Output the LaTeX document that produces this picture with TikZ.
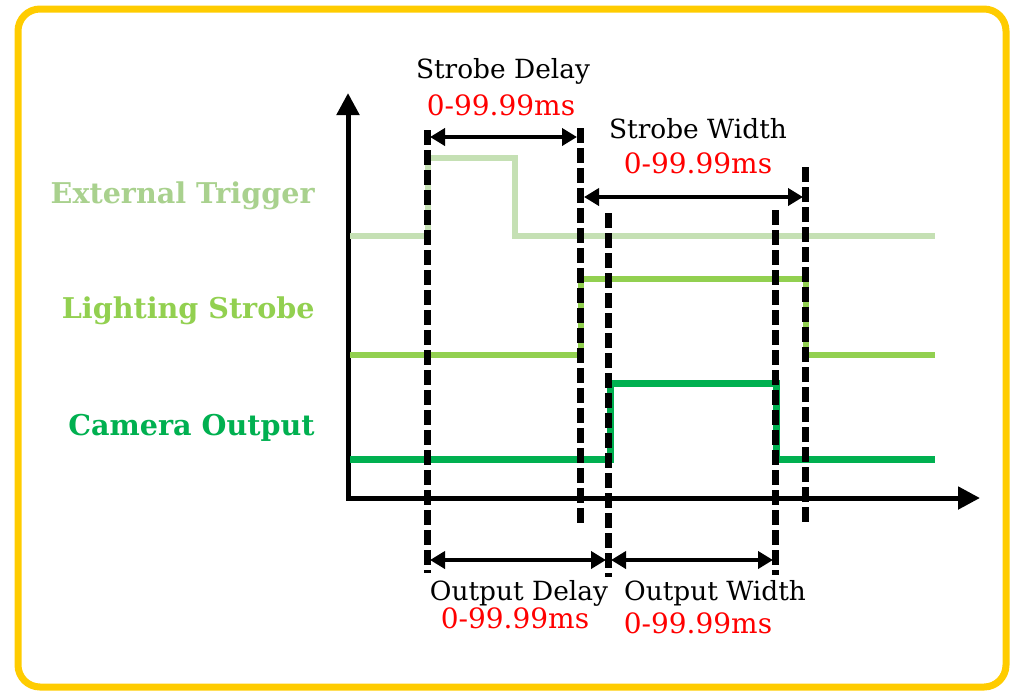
\documentclass[tikz,border=0pt]{standalone}
\usepackage{fontspec}
\setmainfont{DejaVu Serif}
\usetikzlibrary{arrows.meta}
\definecolor{frameyellow}{HTML}{FFCC00}
\definecolor{trigline}{HTML}{C5E0B4}
\definecolor{trigtext}{HTML}{A9D18E}
\definecolor{strobegreen}{HTML}{92D050}
\definecolor{camgreen}{HTML}{00B050}

\begin{document}
\begin{tikzpicture}[x=0.5pt,y=-0.5pt,
  frame/.style={draw=frameyellow,line width=3.5pt,rounded corners=11pt},
  axis/.style={line width=2.5pt,line join=miter,{Triangle[length=11pt,width=11pt]}-{Triangle[length=11pt,width=11pt]}},
  signal/.style={line width=3pt,line join=miter},
  timing/.style={line width=3.5pt,dash pattern=on 7.5pt off 2.5pt},
  span/.style={line width=2pt,{Triangle[length=7.5pt,width=8.5pt]}-{Triangle[length=7.5pt,width=8.5pt]}},
  title/.style={font=\fontsize{13.2}{15}\selectfont,anchor=base,inner sep=0pt},
  rangetext/.style={title,font=\fontsize{14}{15}\selectfont,text=red},
  siglabel/.style={font=\bfseries\fontsize{14.3}{16}\selectfont,anchor=base east,inner sep=0pt}]
  \useasboundingbox (0,0) rectangle (1011,692);
  \draw[frame] (18,9) rectangle (1006,687);
  % Axes
  \draw[axis] (348,93) -- (348,498) -- (980,498);
  % Signal levels
  \draw[signal,trigline] (350,236) -- (428,236) -- (428,158) -- (515,158) -- (515,236) -- (935,236);
  \draw[signal,strobegreen] (350,355) -- (581,355) -- (581,279) -- (806,279) -- (806,355) -- (935,355);
  \draw[signal,camgreen,line width=3.5pt] (350,459) -- (610,459) -- (610,383) -- (776,383) -- (776,459) -- (935,459);
  % Signal names
  \node[siglabel,trigtext] (trig) at (315,203) {External Trigger};
  \node[siglabel,strobegreen] (strobe) at (315,318) {Lighting Strobe};
  \node[siglabel,camgreen] (cam) at (315,435) {Camera Output};
  % Timing marks
  \foreach \x/\ya/\yb in {427/130/573, 580/128/526, 608/213/577, 775/210/575, 805/167/526}
    \draw[timing] (\x,\ya) -- (\x,\yb);
  % Span ends
  \coordinate (sdA) at (430,137);
  \coordinate (sdB) at (577,137);
  \coordinate (swA) at (584,197);
  \coordinate (swB) at (803,197);
  \coordinate (odA) at (430,560);
  \coordinate (odB) at (606,560);
  \coordinate (owA) at (611,560);
  \coordinate (owB) at (773,560);
  \draw[span] (sdA) -- (sdB);
  \draw[span] (swA) -- (swB);
  \draw[span] (odA) -- (odB);
  \draw[span] (owA) -- (owB);
  % Span labels
  \node[title] (sdname) at (503,78) {Strobe Delay};
  \node[rangetext] (sdrange) at (501,115) {0-99.99ms};
  \node[title] (swname) at (698,138) {Strobe Width};
  \node[rangetext] (swrange) at (698,173) {0-99.99ms};
  \node[title] (odname) at (519,600) {Output Delay};
  \node[rangetext] (odrange) at (515,628) {0-99.99ms};
  \node[title] (owname) at (715,600) {Output Width};
  \node[rangetext] (owrange) at (698,633) {0-99.99ms};
\end{tikzpicture}
\end{document}
